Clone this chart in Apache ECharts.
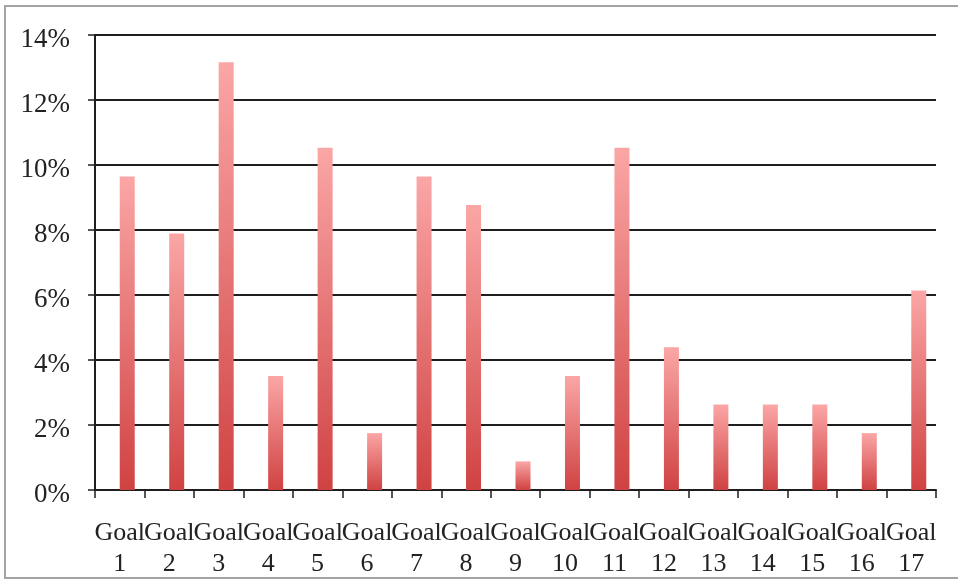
<!DOCTYPE html>
<html>
<head>
<meta charset="utf-8">
<script src="https://cdn.jsdelivr.net/npm/echarts@6/dist/echarts.min.js"></script>
<style>
html,body{margin:0;padding:0;background:#fff;}
#chart{width:958px;height:583px;}
</style>
</head>
<body>
<div id="chart"></div>
<script>
const categories = ['Goal\n1','Goal\n2','Goal\n3','Goal\n4','Goal\n5','Goal\n6','Goal\n7','Goal\n8','Goal\n9','Goal\n10','Goal\n11','Goal\n12','Goal\n13','Goal\n14','Goal\n15','Goal\n16','Goal\n17'];
const shares = [9.65, 7.89, 13.16, 3.51, 10.53, 1.75, 9.65, 8.77, 0.88, 3.51, 10.53, 4.39, 2.63, 2.63, 2.63, 1.75, 6.14];
const yTicks = [0, 2, 4, 6, 8, 10, 12, 14];

const chart = echarts.init(document.getElementById('chart'), null, {renderer: 'canvas'});
const serif = '"Liberation Serif", "DejaVu Serif", serif';
chart.setOption({
  animation: false,
  backgroundColor: '#ffffff',
  graphic: [{
    type: 'rect',
    shape: {x: 5, y: 6, width: 1000, height: 572},
    style: {fill: 'none', stroke: '#a3a3a3', lineWidth: 2},
    silent: true, z: -10
  }],
  grid: {left: 95, right: 22, top: 35, bottom: 93, containLabel: false},
  xAxis: {
    type: 'category',
    data: categories,
    axisLine: {show: true, lineStyle: {color: '#1e1e1e', width: 2}},
    axisTick: {show: true, length: 8, lineStyle: {color: '#1e1e1e', width: 1.5}},
    axisLabel: {interval: 0, margin: 28, fontFamily: serif, fontSize: 26, lineHeight: 31, color: '#222'},
    splitLine: {show: false}
  },
  yAxis: {
    type: 'value',
    min: yTicks[0],
    max: yTicks[yTicks.length - 1],
    interval: 2,
    axisLine: {show: true, lineStyle: {color: '#1e1e1e', width: 2}},
    axisTick: {show: true, length: 7, lineStyle: {color: '#1e1e1e', width: 1.5}},
    axisLabel: {
      margin: 25, fontFamily: serif, fontSize: 27, color: '#222',
      formatter: v => '{p|' + v + '%}',
      rich: {p: {fontFamily: serif, fontSize: 27, color: '#222', padding: [10, 0, 0, 0]}}
    },
    splitLine: {show: true, lineStyle: {color: '#1e1e1e', width: 2}}
  },
  series: [
    {type: 'bar', data: [], barWidth: 15, barGap: '0%'},
    {
      type: 'bar',
      data: shares,
      barWidth: 15,
      barGap: '0%',
      itemStyle: {
        color: new echarts.graphic.LinearGradient(0, 0, 0, 1, [
          {offset: 0, color: '#fba6a6'},
          {offset: 1, color: '#d04242'}
        ])
      }
    }
  ]
});
</script>
</body>
</html>
